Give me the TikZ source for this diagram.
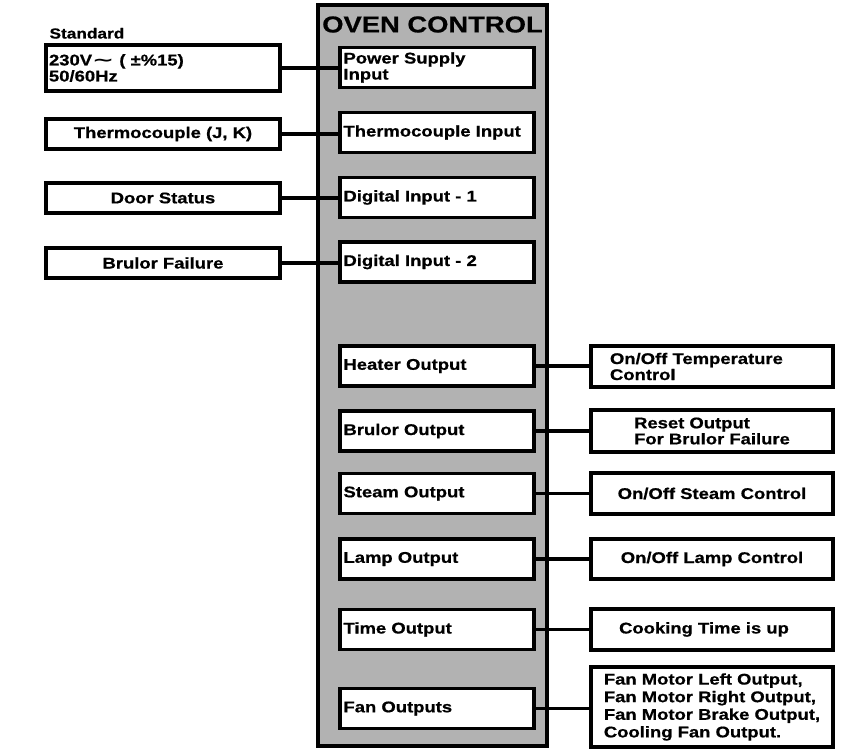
\documentclass[tikz,border=0pt]{standalone}
\usepackage{fontspec}
\setmainfont{Liberation Sans}[FakeStretch=1.19, BoldFeatures={FakeBold=0.7}]
\newfontfamily\symfont{DejaVu Sans}
\usetikzlibrary{positioning}
\tikzset{x=1pt, y=-1pt,
panel/.style={ % the grey controller body
draw, line width=3.2pt,
fill=black!30,
minimum width=229pt,
minimum height=741pt},
ctrl/.style={ % boxes inside the controller
draw, line width=3.2pt,
fill=white,
minimum width=194pt,
minimum height=40pt,
text width=187pt,
inner sep=0pt,
align=left,
font=\bfseries\fontsize{15.5}{16}\selectfont},
source/.style={ % signals coming in
draw, line width=3.2pt,
minimum width=234pt,
minimum height=30pt,
inner sep=0pt,
align=center,
font=\bfseries\fontsize{15.5}{16}\selectfont},
target/.style={ % what the outputs drive
draw, line width=3.2pt,
minimum width=242pt,
minimum height=41pt,
inner sep=0pt,
align=left,
font=\bfseries\fontsize{15.5}{16}\selectfont},
wire/.style={
draw,
line width=3.2pt}}

\begin{document}
\begin{tikzpicture}
\useasboundingbox (0,0) rectangle (854,749);
\node[panel] (oven) at (432.5,375.5) {};
\node[font=\bfseries\fontsize{23}{24}\selectfont] (title) at (432.5,24.5) {OVEN CONTROL};
% inputs
\node[ctrl] (psu) at (437,67.5) {Power Supply\\Input};
\node[ctrl] (tci) at (437,132.5) {Thermocouple Input};
\node[ctrl] (di1) at (437,197.5) {Digital Input - 1};
\node[ctrl] (di2) at (437,262) {Digital Input - 2};
\node[source, minimum height=46pt, text width=228pt, align=left] (std) at (163,68) {230V{\symfont\scalebox{1.7}[1]{∼}} ( ±\%15)\\50/60Hz};
\node[font=\bfseries\fontsize{14.5}{15}\selectfont, anchor=base west] (stdlbl) at (46,38.5) {Standard};
\node[source] (tc) at (163,134) {Thermocouple (J, K)};
\node[source] (door) at (163,198) {Door Status};
\node[source] (fail) at (163,263) {Brulor Failure};
% outputs
\node[ctrl] (heat) at (437,366) {Heater Output};
\node[ctrl] (brul) at (437,431) {Brulor Output};
\node[ctrl] (steam) at (437,493.5) {Steam Output};
\node[ctrl] (lamp) at (437,559) {Lamp Output};
\node[ctrl] (time) at (437,629.5) {Time Output};
\node[ctrl] (fan) at (437,708.5) {Fan Outputs};
\node[target, text width=204pt] (tctl) at (712,366.5) {On/Off Temperature\\Control};
\node[target, minimum height=42pt] (reset) at (712,431) {Reset Output\\For Brulor Failure};
\node[target, align=center] (sctl) at (712,493.5) {On/Off Steam Control};
\node[target, align=center, minimum height=40pt] (lctl) at (712,559) {On/Off Lamp Control};
\node[target] (cook) at (712,629.5) {};
\node[font=\bfseries\fontsize{15.5}{16}\selectfont] (cooklbl) at (704,629.5) {Cooking Time is up};
\node[target, minimum height=80pt, font=\bfseries\fontsize{15.5}{17.6}\selectfont] (fanctl) at (712,707) {Fan Motor Left Output,\\Fan Motor Right Output,\\Fan Motor Brake Output,\\Cooling Fan Output.};
% connections
\draw[wire] (std.east) -- (std.east -| psu.west);
\draw[wire] (tc.east) -- (tc.east -| tci.west);
\draw[wire] (door.east) -- (door.east -| di1.west);
\draw[wire] (fail.east) -- (fail.east -| di2.west);
\draw[wire] (heat.east) -- (heat.east -| tctl.west);
\draw[wire] (brul.east) -- (brul.east -| reset.west);
\draw[wire] (steam.east) -- (steam.east -| sctl.west);
\draw[wire] (lamp.east) -- (lamp.east -| lctl.west);
\draw[wire] (time.east) -- (time.east -| cook.west);
\draw[wire] (fan.east) -- (fan.east -| fanctl.west);
\end{tikzpicture}
\end{document}
